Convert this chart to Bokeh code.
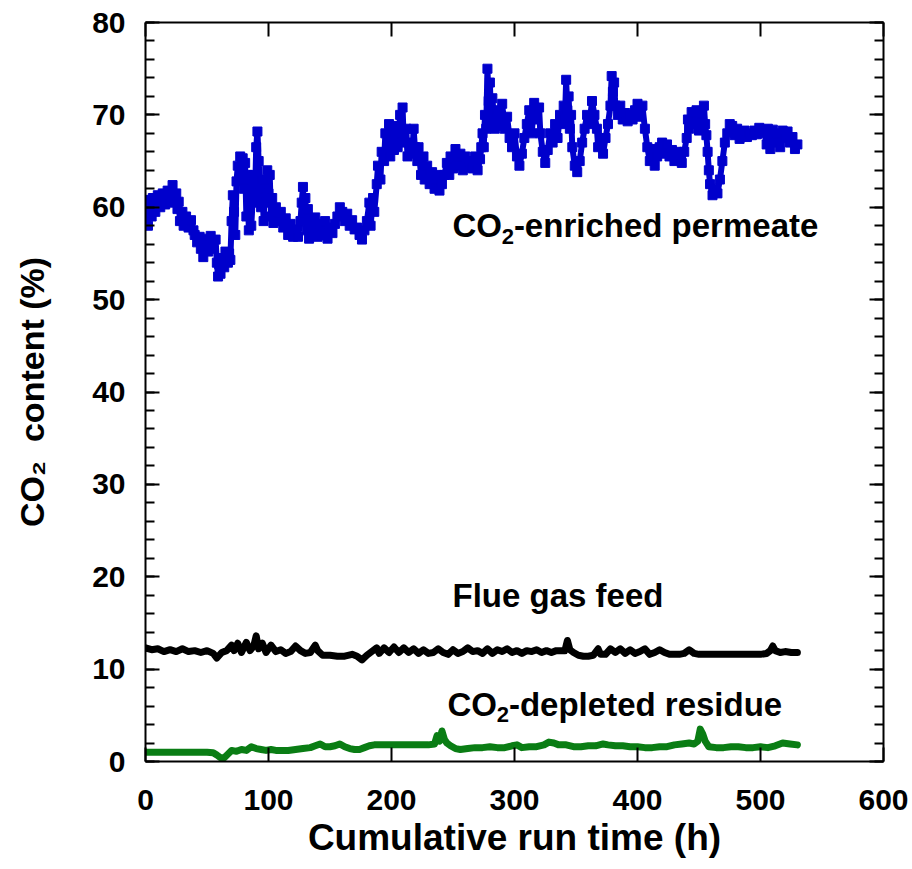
from bokeh.plotting import figure
from bokeh.models import (LinearAxis, SingleIntervalTicker, Range1d, Label,
                          CustomJSTickFormatter)
from bokeh.embed import file_html
from bokeh.resources import INLINE

# ---------------- data ----------------
perm_t = [0, 1, 2, 3, 5, 6, 8, 10, 12, 14, 16, 18, 20, 22, 23, 25, 26, 27, 28, 30,
          31, 33, 35, 37, 39, 40, 42, 44, 45, 47, 48, 50, 51, 53, 55, 57, 58, 59, 60, 61,
          62, 64, 65, 67, 68, 69, 70, 71, 72, 73, 74, 75, 76, 77, 78, 79, 80, 81, 82, 83,
          84, 85, 86, 87, 88, 89, 90, 91, 92, 93, 94, 95, 96, 97, 98, 99, 100, 101, 102, 103,
          104, 106, 108, 110, 112, 114, 116, 118, 120, 122, 124, 126, 127, 128, 129, 130, 131, 132, 133, 134,
          136, 138, 140, 142, 144, 146, 148, 150, 152, 154, 156, 158, 160, 162, 164, 166, 168, 170, 172, 174,
          176, 178, 180, 182, 183, 185, 186, 188, 189, 191, 192, 194, 195, 196, 198, 199, 201, 202, 204, 205,
          207, 208, 209, 210, 212, 213, 215, 217, 218, 219, 221, 222, 224, 226, 227, 229, 231, 233, 235, 237,
          239, 241, 243, 245, 247, 248, 250, 252, 254, 256, 258, 260, 262, 264, 266, 268, 270, 272, 273, 274,
          275, 276, 277, 278, 279, 280, 281, 282, 284, 286, 288, 290, 292, 294, 296, 298, 300, 302, 304, 306,
          308, 310, 312, 314, 316, 318, 320, 321, 323, 325, 327, 329, 331, 333, 335, 337, 339, 340, 341, 342,
          343, 344, 345, 346, 347, 349, 351, 353, 355, 357, 359, 361, 363, 365, 367, 368, 370, 372, 374, 376,
          378, 379, 380, 381, 382, 384, 386, 388, 390, 392, 394, 396, 398, 400, 402, 404, 406, 408, 410, 412,
          414, 416, 418, 420, 422, 424, 426, 428, 430, 432, 434, 436, 438, 440, 441, 442, 444, 446, 448, 450,
          452, 454, 455, 456, 457, 458, 459, 461, 463, 465, 467, 469, 471, 473, 475, 477, 479, 481, 483, 485,
          487, 489, 491, 493, 495, 497, 499, 501, 503, 505, 506, 508, 510, 512, 514, 516, 518, 520, 522, 524,
          526, 528, 530]
perm_v = [58.5, 60.5, 58.0, 60.8, 59.0, 61.0, 59.5, 61.3, 60.0, 61.5, 60.3, 61.8, 60.5, 62.4, 61.0, 61.5, 59.8, 60.6, 58.5, 59.5,
          58.0, 59.0, 57.8, 58.6, 57.5, 57.0, 56.2, 56.8, 55.5, 54.6, 55.8, 56.6, 55.2, 56.9, 55.5, 56.5, 54.0, 52.5, 53.8, 52.8,
          54.5, 53.5, 55.2, 54.0, 55.0, 54.3, 58.5, 61.3, 59.5, 57.0, 62.8, 64.5, 63.0, 65.5, 63.5, 65.3, 62.0, 64.8, 59.0, 63.5,
          57.5, 61.0, 58.0, 60.5, 63.5, 61.0, 66.5, 68.2, 65.0, 62.5, 60.0, 63.0, 58.5, 62.0, 60.5, 64.0, 61.5, 63.5, 59.0, 61.0,
          58.3, 60.0, 58.5, 59.5, 57.8, 58.8, 57.0, 58.2, 56.8, 57.6, 56.8, 58.5, 60.5, 62.2, 59.5, 61.0, 57.5, 59.8, 56.6, 58.3,
          57.0, 58.9, 56.8, 58.2, 57.0, 58.5, 56.6, 57.8, 57.2, 58.2, 59.0, 60.0, 59.5, 58.5, 59.3, 58.0, 58.6, 57.6, 57.8, 57.0,
          56.5, 57.5, 58.5, 60.5, 58.0, 61.0, 59.5, 62.5, 64.5, 63.0, 66.0, 65.0, 68.0, 66.0, 69.0, 65.5, 68.5, 66.2, 68.8, 66.5,
          70.0, 68.0, 70.8, 67.0, 68.5, 65.5, 67.0, 65.8, 68.5, 66.5, 65.0, 66.5, 63.5, 65.5, 63.0, 64.5, 62.5, 63.8, 62.0, 63.5,
          61.8, 62.5, 63.5, 64.8, 63.5, 65.5, 64.2, 66.3, 64.5, 65.8, 64.0, 65.5, 64.3, 65.0, 64.2, 65.5, 64.0, 65.2, 66.5, 68.0,
          66.5, 70.0, 68.5, 75.0, 71.5, 73.5, 69.0, 71.8, 68.5, 70.5, 68.8, 71.2, 68.5, 69.8, 67.5, 66.5, 68.0, 65.5, 64.5, 65.8,
          67.5, 69.0, 70.5, 68.0, 71.3, 69.5, 70.8, 68.0, 66.0, 64.8, 66.2, 68.0, 67.0, 69.0, 67.5, 70.0, 69.0, 71.0, 69.5, 73.8,
          70.5, 72.0, 68.5, 70.0, 66.5, 64.5, 63.8, 65.0, 67.0, 68.5, 70.0, 69.0, 71.5, 70.0, 68.5, 66.5, 67.5, 65.8, 67.5, 69.0,
          71.0, 74.2, 72.5, 73.5, 71.0, 70.0, 71.0, 69.5, 70.2, 69.3, 70.0, 69.5, 70.5, 71.2, 69.8, 71.0, 68.5, 66.5, 65.0, 66.3,
          64.5, 65.5, 66.5, 67.0, 65.8, 66.8, 65.5, 66.2, 65.0, 66.0, 65.2, 64.8, 66.0, 67.5, 69.5, 68.5, 70.3, 69.0, 70.5, 68.3,
          70.2, 71.0, 69.0, 67.8, 66.0, 64.0, 62.5, 61.3, 62.0, 61.5, 63.0, 65.0, 67.0, 68.0, 69.0, 68.8, 67.8, 68.5, 67.4, 67.8,
          68.3, 67.6, 68.0, 67.8, 68.3, 67.9, 68.6, 68.0, 68.4, 66.8, 68.5, 66.3, 68.4, 67.0, 68.0, 66.5, 68.3, 67.5, 68.2, 67.0,
          67.6, 66.3, 66.8]

feed_t = [0, 5, 10, 15, 20, 25, 30, 35, 40, 45, 50, 55, 58, 62, 66, 70, 72, 75, 78, 82,
          85, 88, 90, 92, 95, 98, 102, 106, 110, 114, 118, 122, 126, 130, 134, 138, 140, 144, 150, 156,
          162, 168, 172, 176, 180, 184, 188, 190, 194, 198, 202, 206, 210, 214, 218, 222, 226, 230, 234, 238,
          242, 246, 250, 254, 258, 262, 266, 270, 274, 278, 282, 286, 290, 294, 298, 302, 306, 310, 314, 318,
          322, 326, 330, 334, 338, 341, 343, 345, 348, 352, 356, 360, 364, 368, 370, 374, 378, 382, 386, 390,
          394, 398, 402, 406, 410, 414, 418, 422, 426, 430, 434, 438, 442, 446, 450, 455, 460, 465, 470, 475,
          480, 485, 490, 495, 500, 505, 508, 510, 512, 516, 520, 525, 530]
feed_v = [12.3, 12.1, 12.2, 11.9, 12.1, 11.9, 12.2, 11.9, 12.0, 11.8, 12.0, 11.7, 11.2, 11.8, 12.0, 12.6, 12.0, 12.8, 11.8, 12.9,
          12.0, 12.5, 13.6, 12.2, 12.8, 11.8, 12.6, 11.9, 12.1, 11.7, 11.9, 12.5, 12.0, 11.7, 11.8, 12.6, 12.0, 11.5, 11.5, 11.4,
          11.4, 11.6, 11.4, 11.0, 11.5, 11.9, 12.3, 11.7, 12.3, 11.8, 12.4, 11.8, 12.3, 11.8, 12.2, 11.7, 12.1, 11.7, 11.8, 12.2,
          11.8, 11.6, 12.1, 11.7, 11.9, 12.3, 11.9, 12.0, 11.7, 12.2, 11.7, 12.1, 11.9, 12.2, 11.8, 12.0, 11.7, 12.0, 11.9, 12.1,
          11.8, 12.0, 11.8, 12.0, 12.0, 12.0, 13.1, 12.1, 11.8, 11.5, 11.4, 11.4, 11.5, 12.2, 11.6, 11.6, 12.2, 11.8, 12.2, 11.7,
          12.1, 11.7, 11.9, 12.2, 11.6, 11.8, 12.1, 11.8, 11.6, 11.6, 11.6, 11.7, 12.1, 11.7, 11.6, 11.6, 11.6, 11.6, 11.6, 11.6,
          11.6, 11.6, 11.6, 11.6, 11.6, 11.7, 12.0, 12.5, 12.0, 11.8, 11.9, 11.8, 11.8]

resid_t = [0, 10, 20, 30, 40, 50, 55, 58, 61, 64, 67, 70, 74, 78, 82, 86, 90, 94, 98, 102,
           106, 110, 116, 122, 128, 134, 138, 142, 146, 150, 154, 158, 162, 166, 170, 174, 178, 182, 186, 190,
           200, 210, 220, 230, 235, 237, 239, 241, 243, 245, 248, 252, 256, 262, 268, 274, 280, 286, 292, 298,
           302, 306, 312, 318, 324, 328, 332, 336, 342, 348, 354, 360, 366, 372, 376, 382, 388, 394, 400, 406,
           412, 418, 424, 430, 436, 442, 446, 449, 451, 453, 455, 458, 464, 470, 476, 482, 488, 494, 500, 506,
           512, 518, 524, 530]
resid_v = [1.0, 1.0, 1.0, 1.0, 1.0, 1.0, 0.95, 0.7, 0.4, 0.4, 0.8, 1.2, 1.1, 1.3, 1.2, 1.6, 1.4, 1.3, 1.2, 1.3,
           1.2, 1.2, 1.2, 1.3, 1.4, 1.5, 1.7, 1.9, 1.6, 1.6, 1.7, 1.9, 1.6, 1.4, 1.3, 1.3, 1.5, 1.7, 1.8, 1.8,
           1.8, 1.8, 1.8, 1.8, 1.9, 2.8, 2.2, 3.3, 2.4, 2.0, 1.7, 1.4, 1.3, 1.4, 1.5, 1.5, 1.6, 1.5, 1.5, 1.7,
           1.8, 1.5, 1.6, 1.6, 1.8, 2.1, 2.0, 1.8, 1.8, 1.6, 1.6, 1.7, 1.7, 1.9, 1.8, 1.7, 1.7, 1.6, 1.6, 1.5,
           1.5, 1.6, 1.6, 1.8, 1.9, 2.0, 1.9, 2.2, 3.5, 3.0, 2.2, 1.6, 1.5, 1.5, 1.6, 1.6, 1.5, 1.5, 1.6, 1.5,
           1.7, 2.0, 1.9, 1.8]

x_label = "Cumulative run time (h)"
y_label = "CO\u2082\u00a0 content (%)"

FONT = "Liberation Sans"
BLUE = "#0000cc"
GREEN = "#0a7d14"

p = figure(frame_width=738, frame_height=739, output_backend="svg", toolbar_location=None,
           x_range=Range1d(0, 600), y_range=Range1d(0, 80),
           min_border_left=145, min_border_top=22, min_border_right=28, min_border_bottom=100,
           x_axis_location=None, y_axis_location=None)
p.grid.visible = False
p.outline_line_color = None
p.background_fill_color = "white"
p.border_fill_color = "white"

def style_axis(ax, interval, minor, show_labels):
    ax.ticker = SingleIntervalTicker(interval=interval, num_minor_ticks=minor)
    ax.axis_line_width = 2
    ax.axis_line_color = "black"
    ax.major_tick_line_width = 2
    ax.minor_tick_line_width = 2
    ax.major_tick_in = 14
    ax.major_tick_out = 0
    ax.minor_tick_in = 9 if minor else 0
    ax.minor_tick_out = 0
    ax.major_label_text_font = FONT
    ax.major_label_text_font_style = "bold"
    ax.major_label_text_color = "black"
    ax.axis_label_text_font = FONT
    ax.axis_label_text_font_style = "bold"
    ax.axis_label_text_color = "black"
    if show_labels:
        ax.major_label_text_font_size = "30px"
    else:
        ax.formatter = CustomJSTickFormatter(code="return ''")
        ax.major_label_text_font_size = "1px"
        ax.major_label_standoff = 0

left = LinearAxis(axis_label=y_label)
style_axis(left, 10, 5, True)
left.major_label_standoff = 20
left.axis_label_text_font_size = "34px"
left.axis_label_standoff = 38
p.add_layout(left, "left")

right = LinearAxis()
style_axis(right, 10, 5, False)
p.add_layout(right, "right")

bottom = LinearAxis(axis_label=x_label)
style_axis(bottom, 100, 0, True)
bottom.major_label_standoff = 28
bottom.axis_label_text_font_size = "37px"
bottom.axis_label_standoff = 4
p.add_layout(bottom, "below")

top = LinearAxis()
style_axis(top, 100, 0, False)
p.add_layout(top, "above")

# ---------------- series ----------------
p.line(perm_t, perm_v, line_color=BLUE, line_width=6)
p.scatter(perm_t, perm_v, marker="square", size=9, fill_color=BLUE, line_color=BLUE)

p.line(feed_t, feed_v, line_color="black", line_width=7, line_join="round", line_cap="round")
p.line(resid_t, resid_v, line_color=GREEN, line_width=7, line_join="round", line_cap="round")

# ---------------- annotations ----------------
def lab(x, y, text, size):
    p.add_layout(Label(x=x, y=y, text=text, text_font=FONT, text_font_style="bold",
                       text_font_size=size, text_color="black",
                       text_align="left", text_baseline="alphabetic"))

lab(249.6, 58.0, "CO", "33px")
lab(289.6, 56.8, "2", "22px")
lab(299.5, 58.0, "-enriched permeate", "33px")

lab(249.6, 18.0, "Flue gas feed", "33px")

lab(245.5, 6.2, "CO", "33px")
lab(285.5, 5.1, "2", "22px")
lab(295.5, 6.2, "-depleted residue", "33px")

open("out.html", "w").write(file_html(p, INLINE))
